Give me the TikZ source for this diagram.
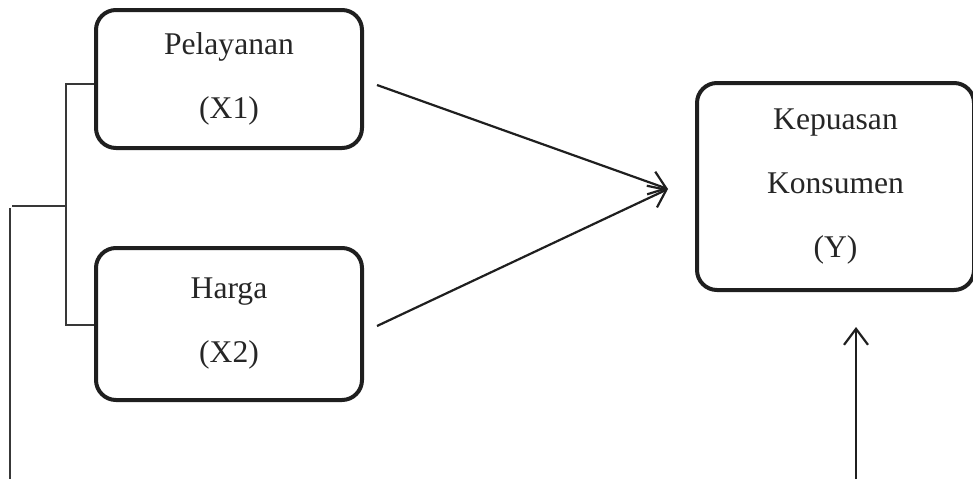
\documentclass[tikz,border=0pt]{standalone}
\usepackage{fontspec}
\setmainfont{Liberation Serif}
\usetikzlibrary{arrows.meta}
\tikzset{
  varbox/.style={draw=black!88, line width=4pt, rounded corners=20pt, fill=none,
    align=center, inner sep=0pt, font=\fontsize{31.6}{64}\selectfont, text=black!85},
  conn/.style={draw=black!88, line width=2.2pt, -{Straight Barb[length=16pt,width=24pt,line width=2.2pt]}},
  plain/.style={draw=black!88, line width=2.2pt},
  br/.style={draw=black!78, line width=1.5pt}
}
\begin{document}
\begin{tikzpicture}[x=1pt,y=-1pt]
\useasboundingbox (0,0) rectangle (973,479);
\clip (0,0) rectangle (973,479);
\node[varbox, minimum width=266pt, minimum height=138pt] (x1) at (229,79) {Pelayanan\\(X1)};
\node[varbox, minimum width=266pt, minimum height=152pt] (x2) at (229,324) {Harga\\(X2)};
\node[varbox, minimum width=277pt, minimum height=207pt] (y) at (835.5,186.5) {Kepuasan\\Konsumen\\(Y)};
\coordinate (a1) at (377,85);
\coordinate (a2) at (377,326);
\coordinate (m) at (668,189);
\coordinate (up) at (856,479);
\coordinate (upend) at (856,327);
\draw[conn] (a1) -- (m);
\draw[conn] (a2) -- (m);
\draw[conn] (up) -- (upend);
\draw[br] (x1.west |- 0,84) -- (66,84) |- (x2.west |- 0,325);
\draw[br] (66,206) -- (12,206);
\draw[br] (10,208) -- (10,479);
\end{tikzpicture}
\end{document}
